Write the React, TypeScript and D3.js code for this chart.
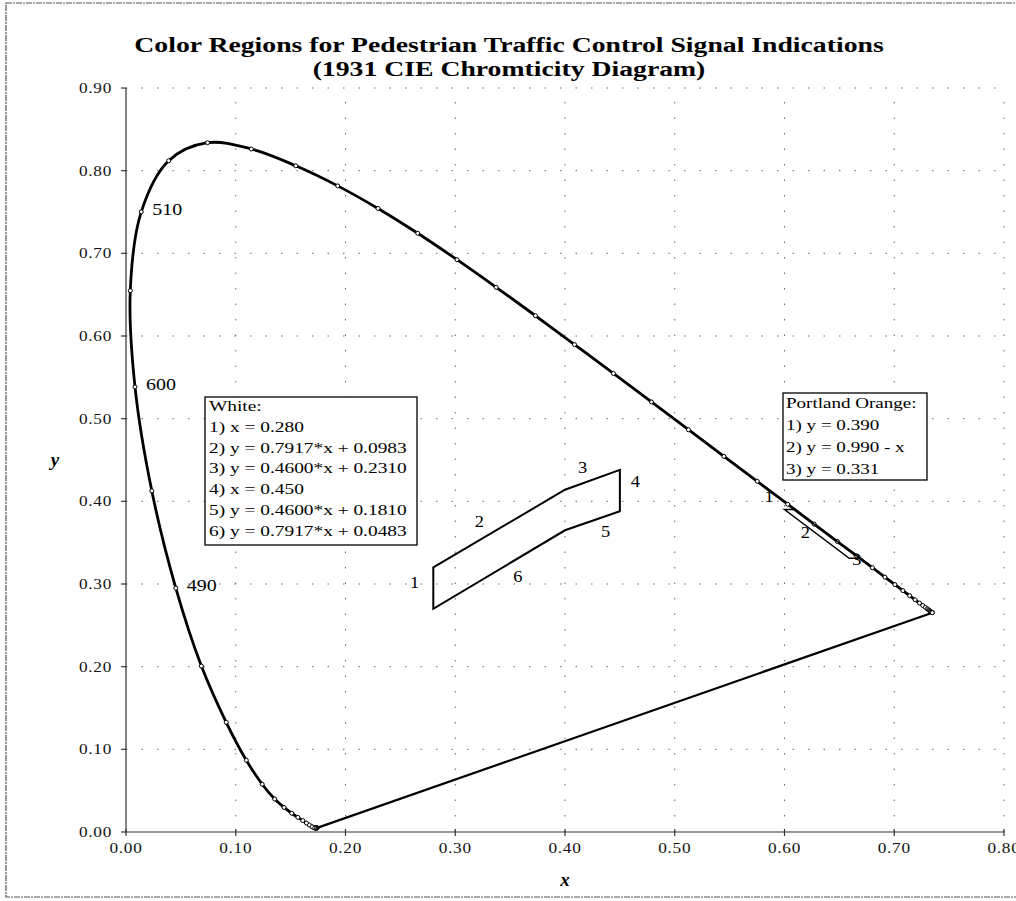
import React from "react";
import * as d3 from "d3";

const W = 1016;
const H = 901;

// CIE 1931 spectral locus, 380..700 nm (5 nm steps)
const locusX = [
  0.1741, 0.174, 0.1738, 0.1736, 0.1733, 0.173, 0.1726, 0.1721, 0.1714, 0.1703,
  0.1689, 0.1669, 0.1644, 0.1611, 0.1566, 0.151, 0.144, 0.1355, 0.1241, 0.1096,
  0.0913, 0.0687, 0.0454, 0.0235, 0.0082, 0.0039, 0.0139, 0.0389, 0.0743, 0.1142,
  0.1547, 0.1929, 0.2296, 0.2658, 0.3016, 0.3373, 0.3731, 0.4087, 0.4441, 0.4788,
  0.5125, 0.5448, 0.5752, 0.6029, 0.627, 0.6482, 0.6658, 0.6801, 0.6915, 0.7006,
  0.7079, 0.714, 0.719, 0.723, 0.726, 0.7283, 0.73, 0.7311, 0.732, 0.7327,
  0.7334, 0.734, 0.7344, 0.7346, 0.7347,
];
const locusY = [
  0.005, 0.005, 0.0049, 0.0049, 0.0048, 0.0048, 0.0048, 0.0048, 0.0051, 0.0058,
  0.0069, 0.0086, 0.0109, 0.0138, 0.0177, 0.0227, 0.0297, 0.0399, 0.0578, 0.0868,
  0.1327, 0.2007, 0.295, 0.4127, 0.5384, 0.6548, 0.7502, 0.812, 0.8338, 0.8262,
  0.8059, 0.7816, 0.7543, 0.7243, 0.6923, 0.6589, 0.6245, 0.5896, 0.5547, 0.5202,
  0.4866, 0.4544, 0.4242, 0.3965, 0.3725, 0.3514, 0.334, 0.3197, 0.3083, 0.2993,
  0.292, 0.2859, 0.2809, 0.277, 0.274, 0.2717, 0.27, 0.2689, 0.268, 0.2673,
  0.2666, 0.266, 0.2656, 0.2654, 0.2653,
];
const locusLabels = ["510", "600", "490"];
const locusLabelX = [0.0139, 0.0082, 0.0454];
const locusLabelY = [0.7502, 0.5384, 0.295];

// white region corners
const whiteX = [0.28, 0.4, 0.45, 0.45, 0.4, 0.28];
const whiteY = [0.32, 0.414, 0.438, 0.388, 0.365, 0.27];
const whiteEdgeLabels = ["1", "2", "3", "4", "5", "6"];
const whiteEdgeX = [0.263, 0.322, 0.416, 0.464, 0.437, 0.357];
const whiteEdgeY = [0.301, 0.375, 0.44, 0.423, 0.363, 0.308];

// portland orange region corners
const orangeX = [0.6, 0.609, 0.669, 0.659];
const orangeY = [0.39, 0.39, 0.331, 0.331];
const orangeEdgeLabels = ["1", "2", "3"];
const orangeEdgeX = [0.586, 0.619, 0.666];
const orangeEdgeY = [0.405, 0.362, 0.329];

const whiteNote = [
  "White:",
  "1) x = 0.280",
  "2) y = 0.7917*x + 0.0983",
  "3) y = 0.4600*x + 0.2310",
  "4) x = 0.450",
  "5) y = 0.4600*x + 0.1810",
  "6) y = 0.7917*x + 0.0483",
];
const orangeNote = ["Portland Orange:", "1) y = 0.390", "2) y = 0.990 - x", "3) y = 0.331"];

const xTicks = [0, 0.1, 0.2, 0.3, 0.4, 0.5, 0.6, 0.7, 0.8];
const yTicks = [0, 0.1, 0.2, 0.3, 0.4, 0.5, 0.6, 0.7, 0.8, 0.9];

const serif = "'Liberation Serif', 'Times New Roman', serif";

// text stretched sideways like the scanned original
const T = ({ x, y, sx = 1.2, anchor = "start", children, ...rest }: any) => (
  <text transform={`translate(${x},${y}) scale(${sx},1)`} textAnchor={anchor} {...rest}>
    {children}
  </text>
);

export default function App() {
  const x = d3.scaleLinear().domain([0, 0.8]).range([126, 1004]);
  const y = d3.scaleLinear().domain([0, 0.9]).range([832, 88]);
  const fmt = d3.format(".2f");

  const locusIdx = d3.range(locusX.length);
  const locusPath =
    d3
      .line<number>()
      .x(i => x(locusX[i]))
      .y(i => y(locusY[i]))
      .curve(d3.curveCatmullRom.alpha(0.5))(locusIdx) + "";
  const last = locusX.length - 1;

  const poly = (xs: number[], ys: number[]) =>
    d3
      .line<number>()
      .x(i => x(xs[i]))
      .y(i => y(ys[i]))
      .curve(d3.curveLinearClosed)(d3.range(xs.length)) + "";

  const [x0, x1] = x.range();
  const [y0, y1] = y.range();

  return (
    <svg width={W} height={H} style={{ display: "block", position: "absolute", left: 0, top: 0 }}
      fontFamily={serif}>
      <rect x={0} y={0} width={W} height={H} fill="#fff" />
      <rect x={6} y={3} width={1040} height={894} fill="none" stroke="#555" strokeWidth={1.2}
        strokeDasharray="6 1 2 1" />

      <T x={509} y={52} sx={1.32} anchor="middle" fontSize={21} fontWeight="bold">
        Color Regions for Pedestrian Traffic Control Signal Indications
      </T>
      <T x={509} y={76} sx={1.32} anchor="middle" fontSize={21} fontWeight="bold">
        (1931 CIE Chromticity Diagram)
      </T>

      {/* gridlines */}
      <g stroke="#666" strokeWidth={1} strokeDasharray="1.5 14">
        {yTicks.filter(t => t > 0).map(t => (
          <line key={"gy" + t} x1={x0} x2={x1} y1={y(t)} y2={y(t)} />
        ))}
        {xTicks.filter(t => t > 0).map(t => (
          <line key={"gx" + t} x1={x(t)} x2={x(t)} y1={y0} y2={y1} />
        ))}
      </g>

      {/* axes */}
      <g stroke="#333" strokeWidth={1.2}>
        <line x1={x0} x2={x0} y1={y0} y2={y1} />
        <line x1={x0} x2={x1} y1={y0} y2={y0} />
        {yTicks.map(t => (
          <line key={"ty" + t} x1={x0 - 5} x2={x0} y1={y(t)} y2={y(t)} />
        ))}
        {xTicks.map(t => (
          <line key={"tx" + t} x1={x(t)} x2={x(t)} y1={y0 - 3} y2={y0 + 4} />
        ))}
      </g>
      <g fontSize={15} fill="#111" letterSpacing={0.6}>
        {yTicks.map(t => (
          <T key={"ly" + t} x={x0 - 14} y={y(t) + 5} sx={1.15} anchor="end">
            {fmt(t)}
          </T>
        ))}
        {xTicks.map(t => (
          <T key={"lx" + t} x={x(t)} y={y0 + 21} sx={1.15} anchor="middle">
            {fmt(t)}
          </T>
        ))}
      </g>
      <text x={(x0 + x1) / 2} y={y0 + 54} textAnchor="middle" fontSize={19} fontStyle="italic"
        fontWeight="bold">
        x
      </text>
      <text x={55} y={466} textAnchor="middle" fontSize={19} fontStyle="italic" fontWeight="bold">
        y
      </text>

      {/* spectral locus + purple line */}
      <path d={locusPath} fill="none" stroke="#000" strokeWidth={2.8} strokeLinejoin="round" />
      <line x1={x(locusX[last])} y1={y(locusY[last])} x2={x(locusX[0])} y2={y(locusY[0])}
        stroke="#000" strokeWidth={2.2} />
      {locusIdx.map(i => (
        <circle key={"m" + i} cx={x(locusX[i])} cy={y(locusY[i])} r={2} fill="#fff"
          stroke="#000" strokeWidth={1} />
      ))}
      {locusLabels.map((l, i) => (
        <T key={"ll" + i} x={x(locusLabelX[i]) + 11} y={y(locusLabelY[i]) + 3} sx={1.25}
          fontSize={16}>
          {l}
        </T>
      ))}

      {/* white region */}
      <path d={poly(whiteX, whiteY)} fill="none" stroke="#000" strokeWidth={2} />
      {whiteEdgeLabels.map((l, i) => (
        <T key={"we" + i} x={x(whiteEdgeX[i])} y={y(whiteEdgeY[i]) + 5} sx={1.15} anchor="middle"
          fontSize={16}>
          {l}
        </T>
      ))}

      {/* portland orange region */}
      <path d={poly(orangeX, orangeY)} fill="none" stroke="#000" strokeWidth={1.5} />
      {orangeEdgeLabels.map((l, i) => (
        <T key={"oe" + i} x={x(orangeEdgeX[i])} y={y(orangeEdgeY[i]) + 5} sx={1.15}
          anchor="middle" fontSize={16}>
          {l}
        </T>
      ))}

      {/* notes */}
      <rect x={205} y={397} width={212} height={148} fill="#fff" stroke="#000" strokeWidth={1.3} />
      {whiteNote.map((s, i) => (
        <T key={"wn" + i} x={209} y={411 + i * 20.8} sx={1.25} fontSize={15.5}>
          {s}
        </T>
      ))}
      <rect x={783} y={393} width={144} height={87} fill="#fff" stroke="#000" strokeWidth={1.3} />
      {orangeNote.map((s, i) => (
        <T key={"on" + i} x={786} y={408 + i * 22} sx={1.27} fontSize={15}>
          {s}
        </T>
      ))}
    </svg>
  );
}
